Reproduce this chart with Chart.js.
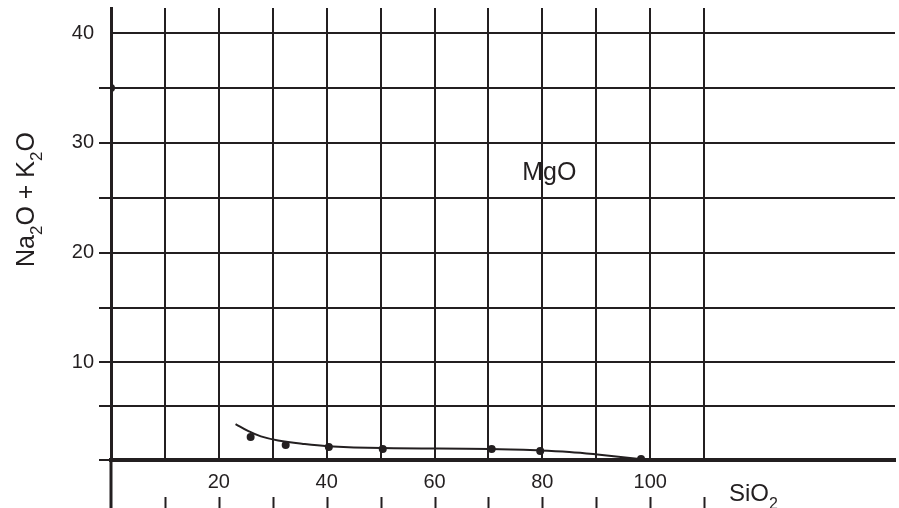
<!DOCTYPE html>
<html>
<head>
<meta charset="utf-8">
<script src="https://cdn.jsdelivr.net/npm/chart.js@4"></script>
<style>
  html, body { margin: 0; padding: 0; background: #fff; }
  #wrap { width: 899px; height: 508px; position: relative; }
</style>
</head>
<body>
<div id="wrap"><canvas id="c"></canvas></div>
<script>
// Datos
const xGrid = [0, 10, 20, 30, 40, 50, 60, 70, 80, 90, 100, 110];
const xLabels = [20, 40, 60, 80, 100];
const yGrid = [1.1, 6, 10, 15, 20, 25, 30, 35, 40];
const yLabels = [10, 20, 30, 40];

// puntos medidos
const dotSiO2 = [0, 25.9, 32.4, 40.4, 50.4, 70.6, 79.6, 98.3];
const dotAlk = [35, 3.2, 2.47, 2.28, 2.1, 2.1, 1.92, 1.19];

// curva ajustada
const curveSiO2 = [23.1, 25.4, 27.8, 31, 35.4, 40.2, 50.2, 70.2, 79.4, 85, 90.2, 98];
const curveAlk = [4.38, 3.75, 3.25, 2.88, 2.58, 2.36, 2.19, 2.1, 1.97, 1.83, 1.6, 1.19];

const INK = '#231f20';
const FONT = "'Liberation Sans', Arial, sans-serif";

// Dibuja texto con subíndices: partes [texto, esSub]
function drawSubText(ctx, parts, x, y, size) {
  const subSize = Math.round(size * 0.68);
  let cx = x;
  parts.forEach(([t, sub]) => {
    ctx.font = `${sub ? subSize : size}px ${FONT}`;
    ctx.fillText(t, cx, sub ? y + size * 0.32 : y);
    cx += ctx.measureText(t).width;
  });
}

const extras = {
  id: 'extras',
  afterDraw(chart) {
    const { ctx, scales: { x, y } } = chart;
    ctx.save();
    ctx.strokeStyle = INK;
    // marcas sueltas bajo las etiquetas del eje x
    ctx.lineWidth = 2;
    xGrid.forEach(v => {
      if (v === 0) return;
      const px = Math.round(x.getPixelForValue(v)) + 0.5;
      ctx.beginPath();
      ctx.moveTo(px, 497);
      ctx.lineTo(px, 508);
      ctx.stroke();
    });
    // eje y se prolonga hasta abajo
    ctx.lineWidth = 3;
    const p0 = x.getPixelForValue(0);
    ctx.beginPath();
    ctx.moveTo(p0, y.bottom);
    ctx.lineTo(p0, 508);
    ctx.stroke();

    ctx.fillStyle = INK;
    ctx.textBaseline = 'alphabetic';
    // MgO
    ctx.font = `25px ${FONT}`;
    ctx.textAlign = 'center';
    ctx.fillText('MgO', x.getPixelForValue(81.3), y.getPixelForValue(27.4) + 9);
    // SiO2
    ctx.textAlign = 'left';
    drawSubText(ctx, [['SiO', false], ['2', true]], 729, 501, 24);
    // título del eje y
    const parts = [['Na', false], ['2', true], ['O + K', false], ['2', true], ['O', false]];
    ctx.translate(34, 267);
    ctx.rotate(-Math.PI / 2);
    drawSubText(ctx, parts, 0, 0, 25);
    ctx.restore();
  }
};

new Chart(document.getElementById('c'), {
  data: {
    datasets: [
      {
        type: 'line',
        data: curveSiO2.map((v, i) => ({ x: v, y: curveAlk[i] })),
        borderColor: INK,
        borderWidth: 2,
        pointRadius: 0,
        fill: false,
        tension: 0.4
      },
      {
        type: 'scatter',
        data: dotSiO2.map((v, i) => ({ x: v, y: dotAlk[i] })),
        backgroundColor: INK,
        borderColor: INK,
        pointRadius: 4,
        borderWidth: 0
      }
    ]
  },
  options: {
    responsive: true,
    maintainAspectRatio: false,
    animation: false,
    layout: { padding: { top: 8, right: 3, left: 0, bottom: 0 } },
    plugins: { legend: { display: false }, tooltip: { enabled: false } },
    scales: {
      x: {
        type: 'linear',
        min: 0,
        max: 145.4,
        afterBuildTicks: s => { s.ticks = xGrid.map(v => ({ value: v })); },
        afterFit: s => { s.height = 48; s.paddingLeft = 0; s.paddingRight = 0; },
        ticks: {
          autoSkip: false,
          maxRotation: 0,
          padding: 10,
          color: INK,
          font: { family: FONT, size: 20 },
          callback: v => xLabels.includes(v) ? String(v) : ''
        },
        grid: { color: INK, lineWidth: 2, drawTicks: false },
        border: { display: true, color: INK, width: 4 }
      },
      y: {
        type: 'linear',
        min: 1.1,
        max: 42.3,
        afterBuildTicks: s => { s.ticks = yGrid.map(v => ({ value: v })); },
        afterFit: s => { s.width = 111; s.paddingTop = 0; s.paddingBottom = 0; },
        ticks: {
          autoSkip: false,
          padding: 5,
          color: INK,
          font: { family: FONT, size: 20 },
          callback: v => yLabels.includes(v) ? String(v) : ''
        },
        grid: {
          color: INK,
          lineWidth: 2,
          drawTicks: true,
          tickLength: 12,
          tickColor: c => (c.tick && c.tick.value === 40) ? 'rgba(0,0,0,0)' : INK
        },
        border: { display: true, color: INK, width: 3 }
      }
    }
  },
  plugins: [extras]
});
</script>
</body>
</html>
